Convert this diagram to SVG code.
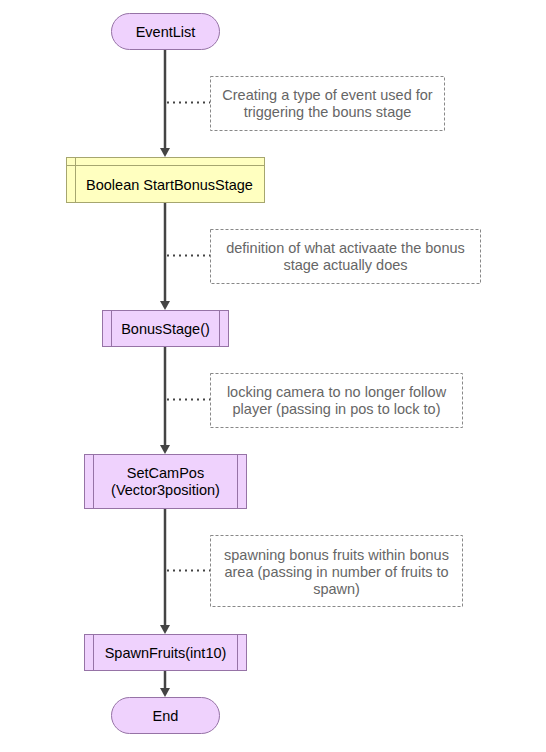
<svg xmlns="http://www.w3.org/2000/svg" width="546" height="752" viewBox="0 0 546 752">
<style>
.p{fill:#efd2fd;stroke:#9673a6;stroke-width:1}
.y{fill:#ffffc0;stroke:#a6a66f;stroke-width:1}
.t{font-family:"Liberation Sans",Arial,sans-serif;font-size:14.5px;fill:#000;text-anchor:middle}
.n{font-family:"Liberation Sans",Arial,sans-serif;font-size:14.5px;fill:#666;text-anchor:middle}
.nb{fill:#fff;stroke:#888;stroke-width:1;stroke-dasharray:3 2}
.c{stroke:#444;stroke-width:2.5;fill:none}
.d{stroke:#444;stroke-width:2;fill:none;stroke-dasharray:2 4}
.a{fill:#444}
</style>
<rect width="546" height="752" fill="#fff"/>
<g id="connectors">
<line class="c" x1="165" y1="49" x2="165" y2="148"/>
<path class="a" d="M160,148 L170,148 L165,157 Z"/>
<line class="c" x1="165" y1="203" x2="165" y2="301"/>
<path class="a" d="M160,301 L170,301 L165,310 Z"/>
<line class="c" x1="165" y1="346" x2="165" y2="445"/>
<path class="a" d="M160,445 L170,445 L165,454 Z"/>
<line class="c" x1="165" y1="508" x2="165" y2="625"/>
<path class="a" d="M160,625 L170,625 L165,634 Z"/>
<line class="c" x1="165" y1="670" x2="165" y2="688"/>
<path class="a" d="M160,688 L170,688 L165,697 Z"/>
<line class="d" x1="167" y1="102.5" x2="210" y2="102.5"/>
<line class="d" x1="167" y1="255.5" x2="210" y2="255.5"/>
<line class="d" x1="167" y1="399.5" x2="210" y2="399.5"/>
<line class="d" x1="167" y1="570.5" x2="210" y2="570.5"/>
</g>
<g id="EventList">
<rect class="p" x="111.5" y="13.5" width="108" height="36" rx="18"/>
<text class="t" x="165.5" y="36.5">EventList</text>
</g>
<g id="note1">
<rect class="nb" x="210.5" y="76.5" width="234" height="54"/>
<text class="n" x="327.5" y="100">Creating a type of event used for</text>
<text class="n" x="327.5" y="117">triggering the bouns stage</text>
</g>
<g id="StartBonusStage">
<rect class="y" x="66.5" y="157.5" width="198" height="45"/>
<line class="y" x1="75.5" y1="157.5" x2="75.5" y2="202.5"/>
<line class="y" x1="66.5" y1="165.5" x2="264.5" y2="165.5"/>
<text class="t" x="169.5" y="190">Boolean StartBonusStage</text>
</g>
<g id="note2">
<rect class="nb" x="210.5" y="229.5" width="270" height="54"/>
<text class="n" x="345.5" y="253">definition of what activaate the bonus</text>
<text class="n" x="345.5" y="270">stage actually does</text>
</g>
<g id="BonusStage">
<rect class="p" x="102.5" y="310.5" width="126" height="36"/>
<line class="p" x1="111.5" y1="310.5" x2="111.5" y2="346.5"/>
<line class="p" x1="219.5" y1="310.5" x2="219.5" y2="346.5"/>
<text class="t" x="165.5" y="333.5">BonusStage()</text>
</g>
<g id="note3">
<rect class="nb" x="210.5" y="373.5" width="252" height="54"/>
<text class="n" x="336.5" y="397">locking camera to no longer follow</text>
<text class="n" x="336.5" y="414">player (passing in pos to lock to)</text>
</g>
<g id="SetCamPos">
<rect class="p" x="84.5" y="454.5" width="162" height="54"/>
<line class="p" x1="93.5" y1="454.5" x2="93.5" y2="508.5"/>
<line class="p" x1="237.5" y1="454.5" x2="237.5" y2="508.5"/>
<text class="t" x="165.5" y="477.5">SetCamPos</text>
<text class="t" x="165.5" y="494.5">(Vector3position)</text>
</g>
<g id="note4">
<rect class="nb" x="210.5" y="535.5" width="252" height="71"/>
<text class="n" x="336.5" y="559.5">spawning bonus fruits within bonus</text>
<text class="n" x="336.5" y="576.5">area (passing in number of fruits to</text>
<text class="n" x="336.5" y="593.5">spawn)</text>
</g>
<g id="SpawnFruits">
<rect class="p" x="84.5" y="634.5" width="162" height="36"/>
<line class="p" x1="93.5" y1="634.5" x2="93.5" y2="670.5"/>
<line class="p" x1="237.5" y1="634.5" x2="237.5" y2="670.5"/>
<text class="t" x="165.5" y="657.5">SpawnFruits(int10)</text>
</g>
<g id="End">
<rect class="p" x="111.5" y="697.5" width="108" height="36" rx="18"/>
<text class="t" x="165.5" y="720.5">End</text>
</g>
</svg>
